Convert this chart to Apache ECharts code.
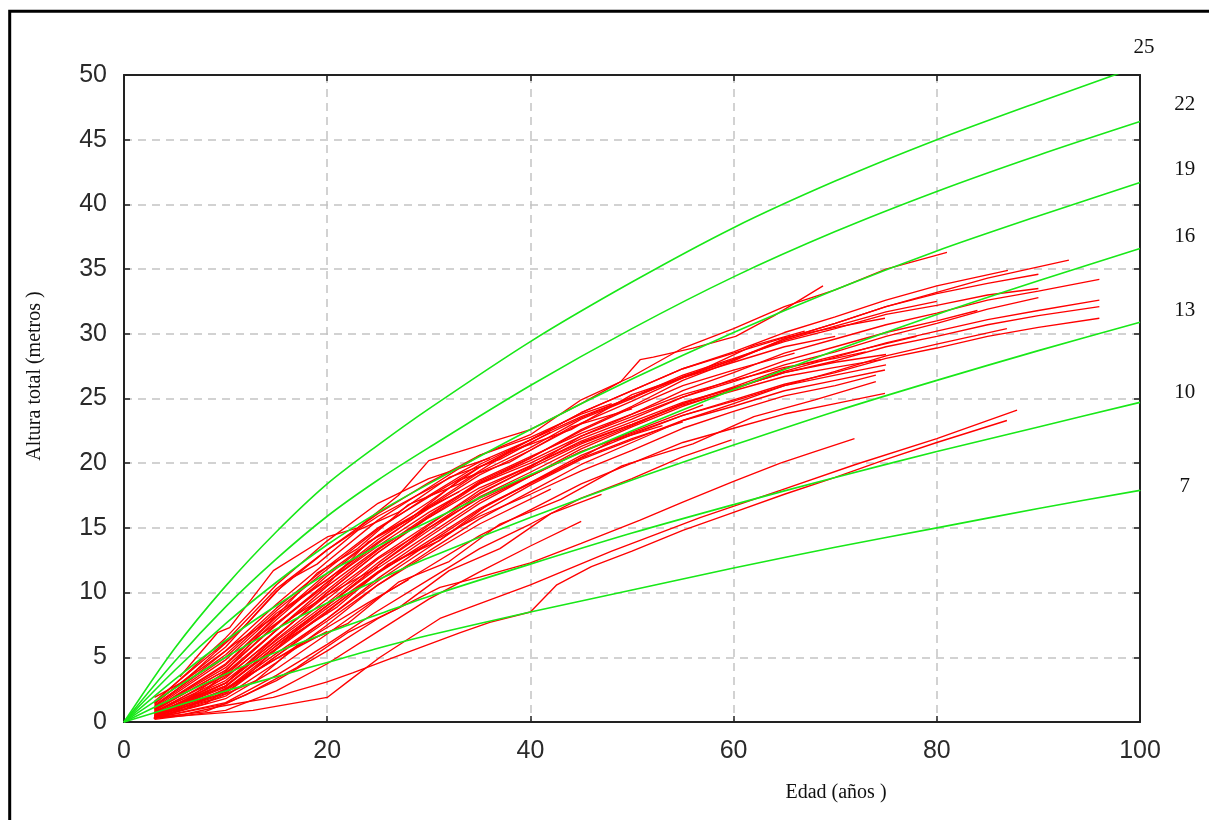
<!DOCTYPE html>
<html>
<head>
<meta charset="utf-8">
<script src="https://cdn.jsdelivr.net/npm/echarts@6/dist/echarts.min.js"></script>
<style>
  html, body { margin: 0; padding: 0; background: #fff; overflow: hidden; }
  #chart { width: 1209px; height: 820px; }
</style>
</head>
<body>
<div id="chart"></div>
<script>
// curvas de índice de sitio (altura a edad de referencia)
const siteIndex = [7, 10, 13, 16, 19, 22, 25];
const curveAges = [0, 5, 10, 15, 20, 25, 30, 40, 50, 60, 70, 80, 90, 100];
const curve7  = [0, 1.2, 2.4, 3.5, 4.6, 5.7, 6.7, 8.5, 10.2, 11.9, 13.5, 15.0, 16.5, 17.9];
const curve10 = [0, 1.9, 3.7, 5.4, 6.9, 8.3, 9.7, 12.2, 14.6, 16.8, 18.9, 20.9, 22.8, 24.7];
const curve13 = [0, 2.6, 5.0, 7.2, 9.2, 11.0, 12.7, 15.8, 18.7, 21.4, 24.0, 26.4, 28.7, 30.9];
const curve16 = [0, 3.3, 6.3, 9.0, 11.5, 13.6, 15.5, 19.1, 22.5, 25.7, 28.7, 31.5, 34.1, 36.6];
const curve19 = [0, 4.0, 7.6, 10.8, 13.7, 16.2, 18.4, 22.6, 26.5, 30.1, 33.4, 36.4, 39.1, 41.7];
const curve22 = [0, 4.7, 8.9, 12.6, 15.9, 18.7, 21.2, 26.0, 30.4, 34.4, 37.9, 41.0, 43.8, 46.4];
const curve25 = [0, 5.7, 10.5, 14.7, 18.4, 21.4, 24.2, 29.4, 34.0, 38.2, 41.8, 45.0, 47.9, 50.7];
// posición de las etiquetas (edad, altura)
const siteLabelPos = [[104.4, 18.2], [104.4, 25.5], [104.4, 31.8], [104.4, 37.5], [104.4, 42.7], [104.4, 47.7], [100.4, 52.1]];

// análisis de tronco: [edad, altura]
const upperProfiles = [
  [[3,1.5],[10,5.5],[15,9.1],[20,12.4],[25,15.6],[30,18.1],[35,20.6],[40,22.2],[45,24.9],[50,26.7],[55,28.9],[60,30.4],[65,32.1],[70,33.4],[75,35.0],[81,36.3]],
  [[5.5,3.5],[9.2,6.9],[10.4,7.3],[14.7,11.7],[20,14.3],[23,15],[27,17.5],[30,20.2],[33,20.9],[40,22.6],[45,24.6],[48.9,26.3],[50.8,28],[52.1,28.2],[56,28.9],[60.2,29.8],[64,31.4],[68.8,33.7]],
  [[3,1],[10,4.5],[15,8.2],[20,11],[25,14.1],[30,16.7],[35,19.3],[40,21.2],[45,23.4],[50,25],[55,26.7],[60,28],[65,29.6],[70,30.8],[75,32.1],[80,33.2],[85,34.3],[93,35.7]],
  [[3,0.5],[8,2.5],[10,3.5],[15,6.6],[20,10],[25,13.1],[30,15.9],[35,18.6],[40,20.4],[45,22.6],[50,24.4],[55,26.4],[60,27.9],[65,29.6],[70,30.8],[75,32.1],[80,33.1],[85,33.9],[90,34.6]],
  [[3,0.4],[10,3],[15,6.1],[20,9],[25,12.1],[30,15],[35,17.6],[40,19.7],[45,22.1],[50,23.8],[55,25.6],[60,27],[65,28.5],[70,29.6],[75,30.7],[80,31.6],[85,32.6],[90,33.3],[96,34.2]],
  [[3,0.5],[10,2.5],[15,5.6],[20,8.5],[25,11.6],[30,14.3],[35,16.9],[40,19],[45,21.1],[50,22.8],[55,24.4],[60,25.7],[65,27.1],[70,28.2],[75,29.3],[80,30.2],[85,31.1],[90,31.8],[96,32.6]],
  [[3,0.6],[10,3.2],[15,6.3],[20,9.2],[25,12.3],[30,15.2],[35,17.9],[40,19.8],[45,21.7],[50,23.2],[55,24.7],[60,25.8],[65,27],[70,27.9],[75,29],[80,29.8],[85,30.7],[90,31.4],[96,32.1]],
  [[3,0.4],[10,2.2],[15,5.1],[20,8],[25,11.1],[30,13.8],[35,16.4],[40,18.5],[45,20.6],[50,22.2],[55,23.7],[60,24.9],[65,26.1],[70,27],[75,28.1],[80,28.9],[85,29.8],[90,30.5],[96,31.2]],
  [[3,0.7],[10,3.8],[15,7.1],[20,10.2],[25,13.3],[30,16],[35,18.5],[40,20.2],[45,22.1],[50,23.6],[55,25.1],[60,26.3],[65,27.6],[70,28.6],[75,29.8],[80,30.8],[85,31.9],[90,32.8]],
  [[3,0.3],[10,2],[15,4.6],[20,7.5],[25,10.6],[30,13.2],[35,15.7],[40,17.8],[45,19.9],[50,21.6],[55,23.3],[60,24.6],[65,26],[70,27.1],[75,28.3],[80,29.2],[86.9,30.4]],
  [[3,0.9],[10,4],[15,7.6],[20,10.8],[25,13.6],[30,16.2],[35,18.4],[40,20],[45,21.9],[50,23.4],[55,25.1],[60,26.5],[65,27.9],[70,29],[75,30.1],[80,31],[84,31.8]],
  [[3,1.2],[10,5],[15,8.6],[20,11.8],[25,14.9],[30,17.5],[35,19.9],[40,21.8],[45,23.9],[50,25.6],[55,27.3],[60,28.6],[65,30.1],[70,31.3],[75,32.6],[80,33.7],[87,34.9]],
  [[3,0.9],[10,4],[15,7.5],[20,10.8],[25,13.8],[30,16.6],[35,19.1],[40,21],[45,23.1],[50,24.8],[55,26.6],[60,28],[65,29.5],[70,30.6],[75,31.7],[80,32.5]],
  [[3,1.3],[10,5.2],[15,8.8],[20,12],[25,15],[30,17.4],[35,19.7],[40,21.6],[45,23.5],[50,25.1],[55,26.8],[60,28.1],[65,29.4],[70,30.4],[75,31.5],[80,32.2],[85,33],[90,33.5]]
];
const middleProfiles = [
  [[3,1],[10,4.2],[15,7.9],[20,11.3],[25,14.4],[30,17],[35,19.7],[40,21.8],[45,23.9],[50,25.6],[55,27.3],[60,28.5],[65,29.7],[70,30.5],[74.9,31.2]],
  [[3,0.4],[10,2.5],[15,5.3],[20,8],[25,10.9],[30,13.5],[35,16.1],[40,18.3],[45,20.3],[50,21.8],[55,23.3],[60,24.4],[65,25.6],[70,26.4],[74.9,27.2]],
  [[3,0.3],[10,1.8],[15,4.1],[20,6.8],[25,9.6],[30,12],[35,14.4],[40,16.4],[45,18.4],[50,20],[55,21.6],[60,22.7],[65,23.8],[70,24.6],[74.9,25.4]],
  [[3,0.6],[10,3],[15,6.1],[20,9],[25,11.9],[30,14.5],[35,17.1],[40,19],[45,20.9],[50,22.3],[55,23.7],[60,24.8],[65,26],[70,26.8],[75,27.6]],
  [[3,0.8],[10,3.6],[15,7.1],[20,10.5],[25,13.4],[30,15.8],[35,18.1],[40,19.8],[45,21.6],[50,23],[55,24.5],[60,25.6],[65,26.7],[70,27.4],[74.5,28]],
  [[3,0.5],[10,2.8],[15,5.9],[20,8.8],[25,11.6],[30,13.8],[35,15.9],[40,17.6],[45,19.4],[50,21],[55,22.7],[60,24],[65,25.2],[70,26],[74,26.8]],
  [[3,1.1],[10,4.8],[15,8.4],[20,11],[25,13.9],[30,16.5],[35,18.7],[40,20.5],[45,22.3],[50,23.8],[55,25.3],[60,26.4],[65,27.4],[70,28.1],[73,28.6]],
  [[3,0.5],[10,2.7],[15,5.9],[20,9],[25,12.1],[30,14.8],[35,17.4],[40,19.3],[45,21.3],[50,22.9],[55,24.6],[60,25.9],[65,27.3],[70,28.3],[78,29.8]],
  [[3,0.7],[10,3.4],[15,6.7],[20,9.8],[25,12.7],[30,15.3],[35,17.7],[40,19.6],[45,21.5],[50,23],[55,24.6],[60,25.8],[65,27],[70,27.8],[75,28.4]],
  [[3,0.6],[10,3],[15,6.6],[20,10],[25,13.1],[30,15.8],[35,18.4],[40,20.4],[45,22.5],[50,24.3],[55,26],[60,27.2],[66,28.5]],
  [[3,1.6],[10,6.2],[15,10.3],[20,13.3],[25,15.9],[30,18],[35,20.1],[40,21.8],[45,23.6],[50,25.1],[55,26.6],[60,27.8],[65,29],[70,29.8]],
  [[3,0.5],[9,1.8],[13,3.2],[17,5.9],[22,7.6],[27,10.8],[32,12.4],[37,15.3],[43,17.2],[49,19.8],[56,21.5],[62,23.6],[68,24.9],[74,26.3]],
  [[3,1.2],[7,3.6],[11,6.1],[15,8.2],[19,11.5],[23,13.4],[28,16.8],[33,18.4],[38,20.9],[44,22.6],[50,25.3],[56,26.9],[62,29.1],[67,30.2]]
];
const youngProfiles = [
  [[3,0.3],[10,1.5],[15,3.6],[20,6],[25,8.6],[30,11],[35,13.4],[40,15.3],[45,17.3],[50,18.8],[55,20.5],[59.8,21.8]],
  [[3,0.6],[10,3],[15,6.4],[20,9.5],[25,12.6],[30,15],[35,17.3],[40,19],[45,20.9],[50,22.4],[57,24.5]],
  [[3,1.4],[10,5.8],[15,10.1],[20,13.3],[25,16.1],[30,18.5],[35,20.6],[40,22],[45,23.8],[48,24.6]],
  [[3,1.5],[10,6.5],[15,10.6],[20,14],[25,16.9],[30,18.8],[36,20.4]],
  [[3,0.5],[8,2.5],[12,5],[16,7.8],[20,9.8],[25,12]],
  [[3,1],[10,4.4],[15,8.1],[20,11.5],[25,14.4],[30,16.6],[33,17.8]],
  [[3,0.4],[10,2.3],[15,5.1],[20,7.8],[25,10.6],[30,13],[35,15.3],[42,18]],
  [[3,0.7],[10,2.8],[15,5.7],[20,8.6],[25,11.5],[30,14],[35,16.5],[40,18.5],[45,20.4],[50,21.9],[55,23.2]],
  [[3,0.3],[6,1],[10,2.6],[15,4.9],[20,7]],
  [[4,0.5],[10,2.5],[15,4.9],[20,7.3],[24,9.2],[28,11]],
  [[3,0.8],[7,2.2],[10,3.9],[13,6.5],[16,8.2],[20,10.6],[24,13.9],[28,15.6],[33,18.7],[38,20.1],[44,22.8],[50,24.2]],
  [[3,0.4],[8,1.4],[12,3.5],[16,6.4],[21,8.9],[26,12.2],[31,14],[36,16.9],[42,19.2],[48,21.7],[53,22.9]],
  [[3,1.9],[6,3.2],[9,5.4],[12,7.5],[16,10.9],[19,12.2],[23,14.8],[27,16.2],[32,18.9],[37,20.3],[42,22.4]]
];
const lowerProfiles = [
  [[2.9,0.3],[12.7,0.9],[20,1.9],[22,3.1],[25.2,5],[31.1,8],[40,10.6],[48,13.2],[56.7,15.8],[64.6,17.9],[72,19.9],[80,21.9],[87.9,24.1]],
  [[3,0.3],[6,0.6],[9.4,1.2],[14.7,1.9],[20,3.1],[22.5,3.8],[25.9,4.8],[33.1,6.9],[36,7.7],[40,8.5],[42.6,10.6],[46,12],[50,13.2],[55,14.8],[60,16.2],[65,17.6],[70,18.9],[75,20.3],[80,21.6],[86.9,23.3]],
  [[3,0.3],[10,1.4],[15,3.2],[20,5.5],[25,8],[31.1,10.4],[35,11.2],[40,12.3],[45,13.8],[50.8,15.6],[55,17],[60,18.6],[64.6,20],[68,20.9],[71.9,21.9]],
  [[3,0.2],[10,0.9],[15,2.4],[20,4.5],[25,7],[30,9.5],[35,11.6],[40,13.6],[45,15.5]],
  [[3,0.3],[8,0.8],[12,2.1],[17,4.2],[22,6.9],[27,8.8],[32,11.7],[37,13.4],[42,16.1],[47,17.6]]
];

const siteCurves = [curve7, curve10, curve13, curve16, curve19, curve22, curve25];
const redProfiles = [].concat(upperProfiles, middleProfiles, youngProfiles, lowerProfiles);

const chart = echarts.init(document.getElementById('chart'));

const axisFont = '"Liberation Sans", Arial, sans-serif';
const serifFont = '"Liberation Serif", "Times New Roman", serif';

function valueAxis(pos, max, step, main) {
  return {
    type: 'value',
    position: pos,
    min: 0,
    max: max,
    interval: step,
    axisLine: { show: true, onZero: false, lineStyle: { color: '#222', width: 2 } },
    axisTick: { show: true, inside: true, length: 6, lineStyle: { color: '#222', width: 1.5 } },
    axisLabel: { show: main, color: '#2a2a2a', fontFamily: axisFont, fontSize: 25, margin: pos === 'bottom' ? 17 : 17 },
    splitLine: { show: main, lineStyle: { color: '#c4c4c4', width: 1.5, type: [8, 6] } }
  };
}

const series = [];
redProfiles.forEach(function (p) {
  series.push({
    type: 'line', data: p, showSymbol: false, symbol: 'none', silent: true,
    lineStyle: { color: '#ff0000', width: 1.35 }, z: 2
  });
});
siteCurves.forEach(function (c) {
  series.push({
    type: 'line', data: curveAges.map(function (a, i) { return [a, c[i]]; }),
    showSymbol: false, symbol: 'none', silent: true, smooth: 0.3,
    lineStyle: { color: '#18e818', width: 1.6 }, z: 3
  });
});

chart.setOption({
  backgroundColor: '#fff',
  animation: false,
  grid: { left: 124, right: 69, top: 75, bottom: 98 },
  xAxis: [valueAxis('bottom', 100, 20, true), valueAxis('top', 100, 20, false)],
  yAxis: [valueAxis('left', 50, 5, true), valueAxis('right', 50, 5, false)],
  series: series
});

// marco, títulos y etiquetas de índice de sitio
const graphics = [
  { type: 'rect', shape: { x: 9.7, y: 11.3, width: 1400, height: 1000 }, style: { fill: 'none', stroke: '#000', lineWidth: 3 }, silent: true },
  { type: 'text', x: 836, y: 793, style: { text: 'Edad (años )', fontFamily: serifFont, fontSize: 20, fill: '#111', align: 'center', verticalAlign: 'middle' } },
  { type: 'text', x: 35, y: 376, rotation: Math.PI / 2, style: { text: 'Altura total (metros )', fontFamily: serifFont, fontSize: 20, fill: '#111', align: 'center', verticalAlign: 'middle' } }
];
siteIndex.forEach(function (s, i) {
  const pt = chart.convertToPixel({ gridIndex: 0 }, siteLabelPos[i]);
  graphics.push({ type: 'text', x: pt[0], y: pt[1], style: { text: String(s), fontFamily: serifFont, fontSize: 21, fill: '#111', align: 'center', verticalAlign: 'middle' } });
});
chart.setOption({ graphic: graphics });
</script>
</body>
</html>
